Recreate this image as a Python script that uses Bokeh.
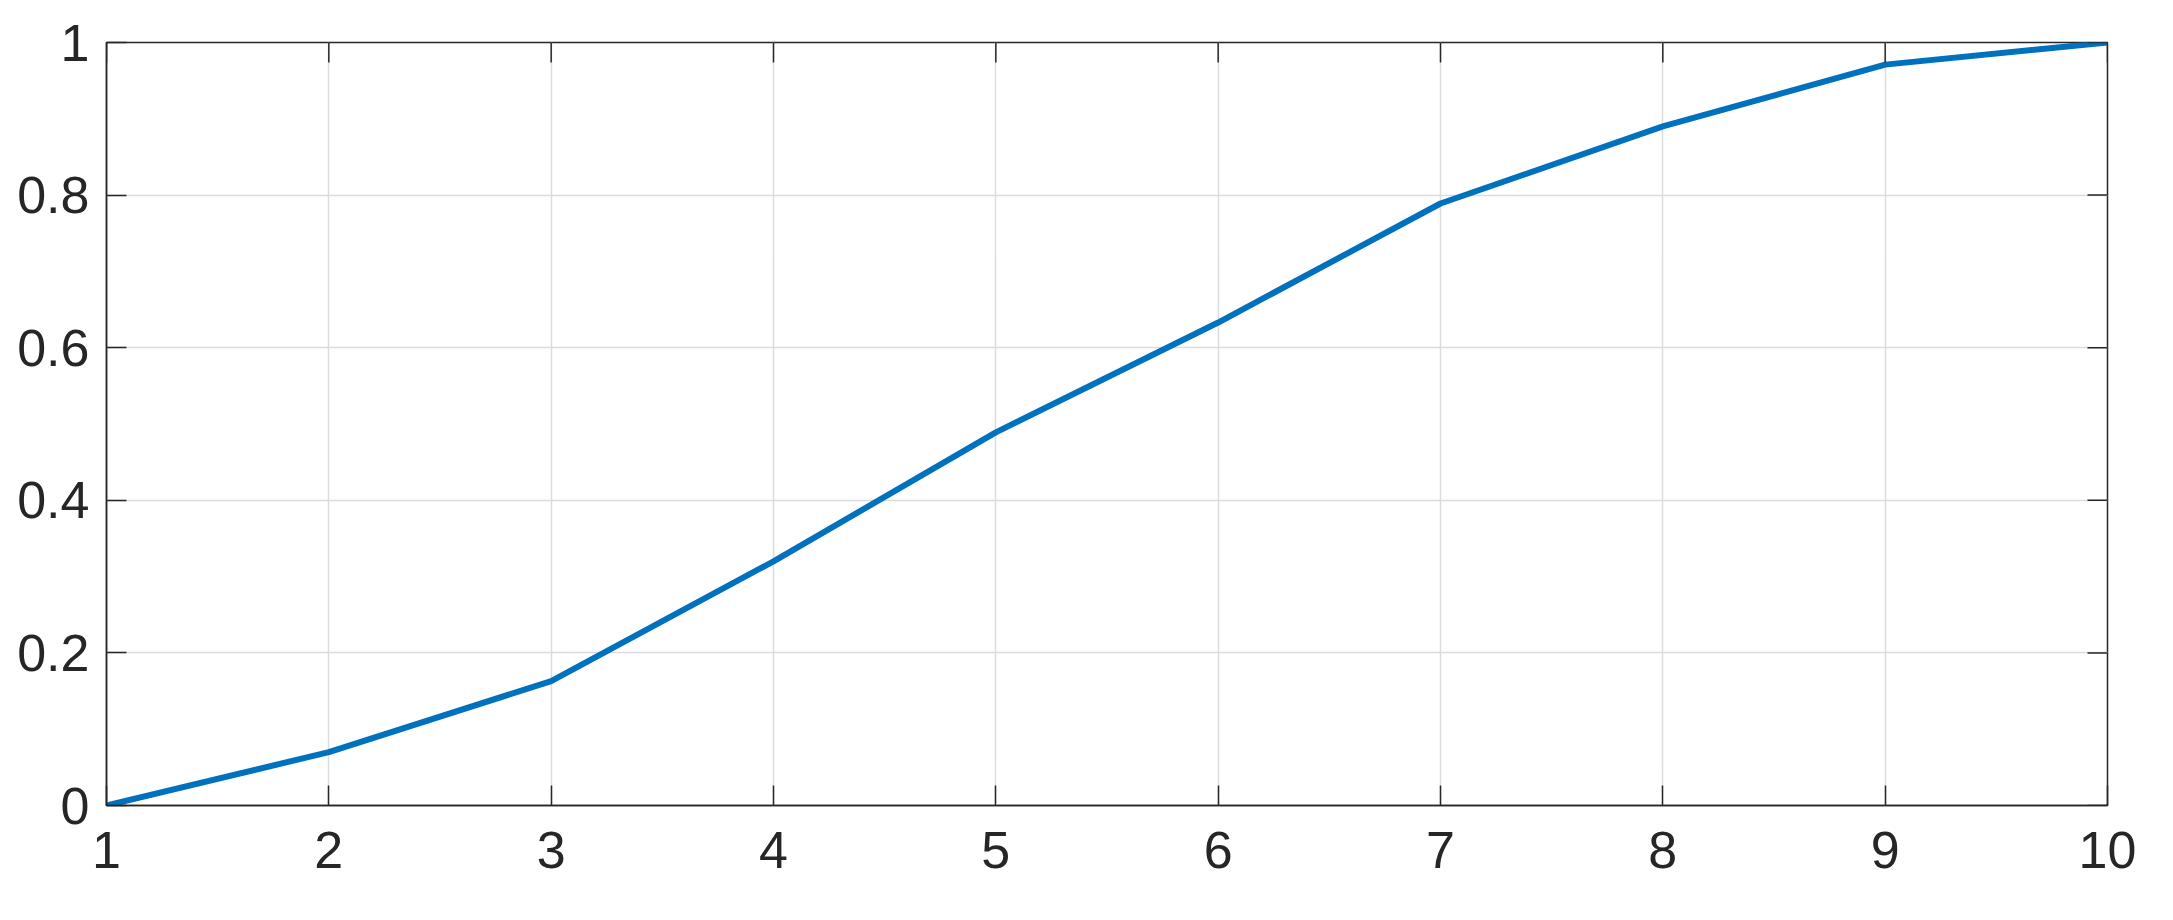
import math

from bokeh.plotting import figure
from bokeh.models import Range1d, FixedTicker, LinearAxis
from bokeh.embed import file_html
from bokeh.resources import INLINE

# data
x_vals = [1, 2, 3, 4, 5, 6, 7, 8, 9, 10]
y_vals = [0, 0.07, 0.163, 0.32, 0.489, 0.633, 0.789, 0.89, 0.971, 1.0]

x_ticks = [1, 2, 3, 4, 5, 6, 7, 8, 9, 10]
y_ticks = [0, 0.2, 0.4, 0.6, 0.8, 1]
y_tick_labels = ["0", "0.2", "0.4", "0.6", "0.8", "1"]

INK = "#262626"
FONT = "Liberation Sans"
TICK_LEN = 20

xr = Range1d(1, 10)
yr = Range1d(0, 1)

p = figure(width=2157, height=904, output_backend="svg", toolbar_location=None,
           x_range=xr, y_range=yr,
           min_border_left=106, min_border_right=50, min_border_top=42, min_border_bottom=99,
           x_axis_location=None, y_axis_location=None)

p.line(x_vals, y_vals, line_color="#0072BD", line_width=6)

p.outline_line_color = INK
p.outline_line_width = 1.5
p.background_fill_color = "white"
p.border_fill_color = "white"


def make_axis(ticks, standoff):
    ax = LinearAxis(ticker=FixedTicker(ticks=ticks))
    ax.axis_line_color = INK
    ax.axis_line_width = 1.5
    ax.major_tick_line_color = INK
    ax.major_tick_line_width = 1.5
    ax.major_tick_in = TICK_LEN
    ax.major_tick_out = 0
    ax.minor_tick_line_color = None
    ax.major_label_text_font = FONT
    ax.major_label_text_color = INK
    ax.major_label_text_font_size = "52px"
    ax.major_label_standoff = standoff
    return ax


bottom = make_axis(x_ticks, 26)
left = make_axis(y_ticks, 17)
left.major_label_overrides = {t: s for t, s in zip(y_ticks, y_tick_labels)}
p.add_layout(bottom, "below")
p.add_layout(left, "left")

# mirrored inward ticks on the top and right edges of the box
p.ray(x=x_ticks, y=[yr.end] * len(x_ticks), length=TICK_LEN, length_units="screen",
      angle=-math.pi / 2, line_color=INK, line_width=1.5)
p.ray(x=[xr.end] * len(y_ticks), y=y_ticks, length=TICK_LEN, length_units="screen",
      angle=math.pi, line_color=INK, line_width=1.5)

p.xgrid.ticker = FixedTicker(ticks=x_ticks)
p.ygrid.ticker = FixedTicker(ticks=y_ticks)
p.grid.grid_line_color = "#dcdcdc"
p.grid.grid_line_width = 1.5

open("out.html", "w").write(file_html(p, INLINE))
